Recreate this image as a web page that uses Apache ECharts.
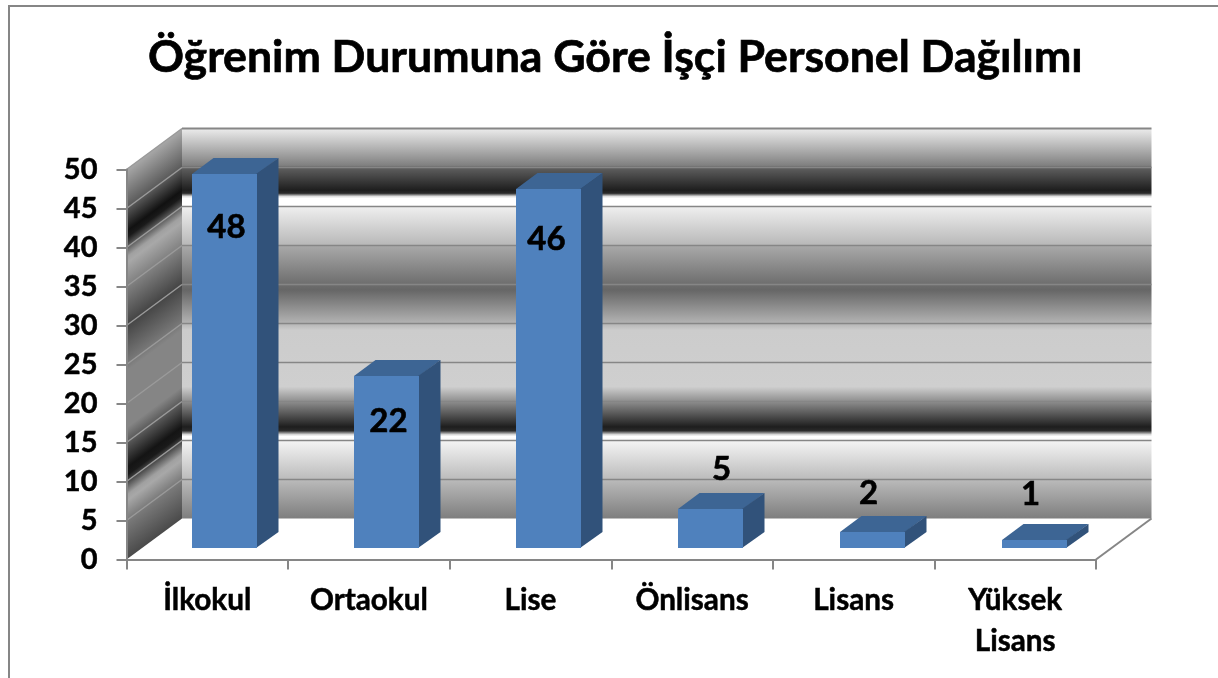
<!DOCTYPE html>
<html>
<head>
<meta charset="utf-8">
<title>Öğrenim Durumuna Göre İşçi Personel Dağılımı</title>
<style>
  html, body { margin: 0; padding: 0; background: #fff; }
  #chart { width: 1218px; height: 678px; }
</style>
<script src="https://cdn.jsdelivr.net/npm/echarts@6/dist/echarts.min.js"></script>
</head>
<body>
<div id="chart"></div>
<script>
const categories = ['İlkokul', 'Ortaokul', 'Lise', 'Önlisans', 'Lisans', 'Yüksek\nLisans'];
const values = [48, 22, 46, 5, 2, 1];
const yTicks = [5, 10, 15, 20, 25, 30, 35, 40, 45, 50];

// hand placed data labels in the original, px away from the bar's top centre
const labelDx = [2, 2, -2, 11, -4, -4];
const labelDy = [53, 45, 50, -40, -39, -46];

const FONT = 'Lato';
const AXIS_COLOR = '#868686';

// 3d look: how far the back wall sits from the front plane
const WALL_DX = 55.5;
const WALL_DY = -41;
// bar front face sits a bit behind the front plane
const BAR_DX = 17;
const BAR_SPREAD = 0.5;
const BAR_DY = -11.5;
const BAR_DEPTH_X = 21.5;
const BAR_DEPTH_Y = -16;

const backStops = [
  [0, '#ececec'], [0.0946, '#808080'], [0.0997, '#606060'], [0.1586, '#1e1e1e'], [0.166, '#2a2a2a'],
  [0.174, '#dddddd'], [0.179, '#ffffff'], [0.197, '#ffffff'], [0.202, '#eeeeee'], [0.299, '#b8b8b8'],
  [0.302, '#a8a8a8'], [0.399, '#6e6e6e'], [0.414, '#666666'], [0.496, '#b0b0b0'], [0.517, '#cccccc'],
  [0.662, '#cfcfcf'], [0.708, '#808080'], [0.765, '#1e1e1e'], [0.775, '#2a2a2a'], [0.785, '#dddddd'],
  [0.79, '#ffffff'], [0.801, '#f4f4f4'], [0.898, '#bcbcbc'], [1, '#7e7e7e']
];
const sideStops = [
  [0, '#a8a8a8'], [0.0997, '#5a5a5a'], [0.1586, '#111111'], [0.175, '#1a1a1a'], [0.225, '#a0a0a0'],
  [0.24, '#a8a8a8'], [0.302, '#808080'], [0.399, '#454545'], [0.496, '#777777'], [0.517, '#858585'],
  [0.662, '#858585'], [0.765, '#141414'], [0.785, '#1a1a1a'], [0.835, '#a0a0a0'], [0.85, '#a8a8a8'],
  [0.898, '#7c7c7c'], [1, '#4a4a4a']
];

function makeStops(list) {
  return list.map(function (s) {
    return { offset: s[0], color: s[1] };
  });
}

function renderWalls(params, api) {
  const cs = params.coordSys;
  const left = cs.x, right = cs.x + cs.width, top = cs.y, bottom = cs.y + cs.height;
  const backLeft = left + WALL_DX, backRight = right + WALL_DX;
  const backTop = top + WALL_DY, backBottom = bottom + WALL_DY;

  // side wall bands run along the depth direction, so tilt the gradient
  const len = Math.sqrt(WALL_DX * WALL_DX + WALL_DY * WALL_DY);
  const nx = -WALL_DY / len, ny = WALL_DX / len;
  const reach = (backBottom - backTop) * ny;

  const children = [
    {
      type: 'polygon',
      shape: { points: [[backLeft, backBottom], [backRight, backBottom], [right, bottom], [left, bottom]] },
      style: { fill: '#ffffff' }
    },
    {
      type: 'rect',
      shape: { x: backLeft, y: backTop, width: backRight - backLeft, height: backBottom - backTop },
      style: {
        fill: { type: 'linear', x: 0, y: backTop, x2: 0, y2: backBottom, global: true, colorStops: makeStops(backStops) }
      }
    },
    {
      type: 'polygon',
      shape: { points: [[left, top], [backLeft, backTop], [backLeft, backBottom], [left, bottom]] },
      style: {
        fill: {
          type: 'linear', x: backLeft, y: backTop, x2: backLeft + nx * reach, y2: backTop + ny * reach,
          global: true, colorStops: makeStops(sideStops)
        }
      }
    }
  ];

  yTicks.forEach(function (t) {
    const p = api.coord([0, t]);
    const isTop = t === 50;
    children.push({
      type: 'polyline',
      shape: { points: [[left, p[1]], [backLeft, p[1] + WALL_DY]] },
      style: { fill: null, stroke: '#9a9a9a', lineWidth: 1.5 }
    });
    children.push({
      type: 'line',
      shape: { x1: backLeft, y1: p[1] + WALL_DY, x2: backRight, y2: p[1] + WALL_DY },
      style: { stroke: AXIS_COLOR, lineWidth: isTop ? 2 : 1.5 }
    });
  });

  children.push({
    type: 'line',
    shape: { x1: right, y1: bottom, x2: backRight, y2: backBottom },
    style: { stroke: AXIS_COLOR, lineWidth: 2 }
  });

  return { type: 'group', children: children };
}

function renderBar(params, api) {
  const i = api.value(0);
  const base = api.coord([i, 0]);
  const head = api.coord([i, api.value(1)]);
  const w = Math.round(api.size([1, 0])[0] * 0.4);
  // whole pixels, otherwise the wall bleeds through between the faces
  const x0 = Math.round(base[0] + BAR_DX + i * BAR_SPREAD - w / 2);
  const x1 = x0 + w;
  const y0 = Math.round(head[1] + BAR_DY);
  const y1 = Math.round(base[1] + BAR_DY);
  return {
    type: 'group',
    children: [
      {
        type: 'polygon',
        shape: { points: [[x0, y0], [x0 + BAR_DEPTH_X, y0 + BAR_DEPTH_Y], [x1 + BAR_DEPTH_X, y0 + BAR_DEPTH_Y], [x1, y0]] },
        style: { fill: '#3d6594' }
      },
      {
        type: 'polygon',
        shape: { points: [[x1 - 1, y0], [x1 + BAR_DEPTH_X, y0 + BAR_DEPTH_Y], [x1 + BAR_DEPTH_X, y1 + BAR_DEPTH_Y], [x1 - 1, y1]] },
        style: { fill: '#31527a' }
      },
      {
        type: 'rect',
        shape: { x: x0, y: y0, width: w, height: y1 - y0 },
        style: { fill: '#4f81bd' }
      },
      {
        type: 'text',
        style: {
          x: x0 + w / 2 + labelDx[i],
          y: y0 + labelDy[i],
          text: String(api.value(1)),
          fill: '#000',
          stroke: '#000',
          lineWidth: 0.6,
          font: 'bold 33px ' + FONT,
          align: 'center',
          verticalAlign: 'middle'
        }
      }
    ]
  };
}

const chart = echarts.init(document.getElementById('chart'), null, { renderer: 'canvas' });

chart.setOption({
  animation: false,
  backgroundColor: '#ffffff',
  title: {
    text: 'Öğrenim Durumuna Göre İşçi Personel Dağılımı',
    left: 148,
    top: 33,
    padding: 0,
    textStyle: {
      fontFamily: FONT, fontWeight: 'bold', fontSize: 44.6, color: '#000', lineHeight: 50,
      textBorderColor: '#000', textBorderWidth: 0.7
    }
  },
  grid: { left: 126.5, right: 122, top: 169.5, bottom: 118.5, containLabel: false },
  xAxis: {
    type: 'category',
    data: categories,
    z: 5,
    axisLine: { lineStyle: { color: AXIS_COLOR, width: 2 } },
    axisTick: { show: true, length: 10, lineStyle: { color: AXIS_COLOR, width: 2 } },
    axisLabel: {
      interval: 0,
      margin: 20,
      fontFamily: FONT,
      fontWeight: 'bold',
      fontSize: 29.7,
      color: '#000',
      lineHeight: 41,
      textBorderColor: '#000',
      textBorderWidth: 0.5
    }
  },
  yAxis: {
    type: 'value',
    min: 0,
    max: 50,
    interval: 5,
    z: 5,
    splitLine: { show: false },
    axisLine: { show: true, lineStyle: { color: AXIS_COLOR, width: 2 } },
    axisTick: { show: true, length: 10, lineStyle: { color: AXIS_COLOR, width: 2 } },
    axisLabel: {
      margin: 29,
      padding: [3, 0, 0, 0],
      fontFamily: FONT,
      fontWeight: 'bold',
      fontSize: 29,
      color: '#000',
      textBorderColor: '#000',
      textBorderWidth: 0.5
    }
  },
  graphic: [
    {
      type: 'polyline',
      silent: true,
      shape: { points: [[9, 678], [9, 6], [1218, 6]] },
      style: { fill: null, stroke: AXIS_COLOR, lineWidth: 2 }
    }
  ],
  series: [
    {
      type: 'custom',
      name: 'walls',
      z: 1,
      silent: true,
      renderItem: renderWalls,
      data: [[0, 0]]
    },
    {
      type: 'custom',
      name: 'Personel',
      z: 2,
      silent: true,
      renderItem: renderBar,
      encode: { x: 0, y: 1 },
      data: values.map(function (v, i) {
        return [i, v];
      })
    }
  ]
});
</script>
</body>
</html>
